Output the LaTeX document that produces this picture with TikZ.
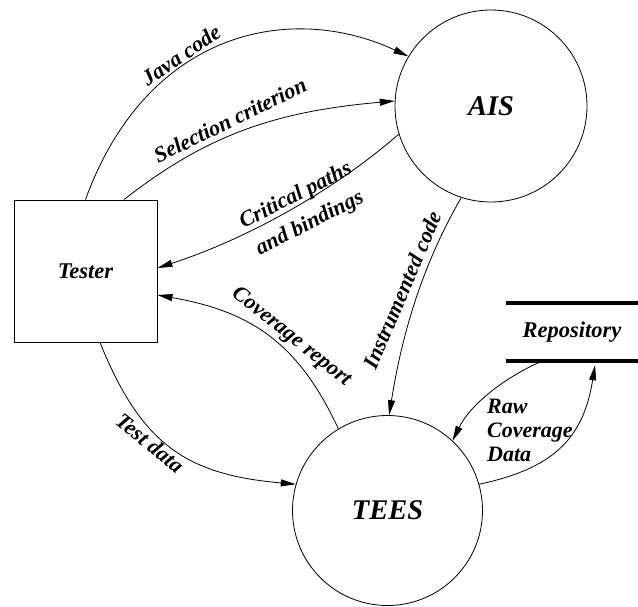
\documentclass[tikz,border=0pt]{standalone}
\usepackage{fontspec}
\setmainfont{Liberation Serif}
\usetikzlibrary{arrows.meta}
\begin{document}
\begin{tikzpicture}[x=1pt,y=-1pt,
  lbl/.style={font=\fontsize{22}{24}\selectfont\bfseries\itshape, inner sep=0pt},
  big/.style={font=\fontsize{28.5}{30}\selectfont\bfseries\itshape},
  proc/.style={circle, draw, line width=0.8pt, inner sep=0pt},
  flow/.style={line width=0.8pt, -{Triangle[length=15pt,width=7pt]}},
  ]
\useasboundingbox (0,0) rectangle (638,606);

\node[proc, minimum size=192pt, big] (ais) at (491,106) {AIS};
\node[proc, minimum size=190pt, big] (tees) at (387.5,510.5) {TEES};
\node[draw, line width=0.9pt, minimum width=143pt, minimum height=142pt,
      font=\fontsize{22.5}{24}\selectfont\bfseries\itshape] (tester) at (85.5,271) {Tester};
\node[minimum width=132pt, minimum height=58pt, inner sep=0pt,
      font=\fontsize{22.5}{24}\selectfont\bfseries\itshape] (repo) at (572,332) {Repository};
\draw[line width=4pt] (repo.north west) -- (repo.north east);
\draw[line width=4pt] (repo.south west) -- (repo.south east);

% flows
\draw[flow] (tester.north) .. controls +(70:180pt) and +(155:130pt) .. (ais.149);
\draw[flow] ([xshift=38.5pt]tester.north) .. controls +(38:105pt) and +(185:120pt) .. (ais.177);
\draw[flow] (ais.197) .. controls +(221:90pt) and +(18:90pt) .. ([yshift=3pt]tester.east);
\draw[flow] (tees.121) .. controls +(115:95pt) and +(-10:95pt) .. ([yshift=-24pt]tester.east);
\draw[flow] (ais.252) .. controls +(240:80pt) and +(81:80pt) .. (tees.89);
\draw[flow] ([xshift=14.5pt]tester.south) .. controls +(-68:110pt) and +(175:110pt) .. (tees.164);
\draw[flow] ([xshift=-30pt]repo.south) .. controls +(203:40pt) and +(64:40pt) .. (tees.47);
\draw[flow] (tees.16) .. controls +(12:75pt) and +(261:75pt) .. ([xshift=23pt,yshift=-4pt]repo.south);

% labels
\node[lbl, rotate=34] (ljava) at (181,55) {Java code};
\node[lbl, rotate=26] (lsel) at (230,120) {Selection criterion};
\node[lbl, rotate=27, align=center] (lcrit) at (303,210) {Critical paths\\[7pt]and bindings};
\node[lbl, rotate=-38.5] (lcov) at (291,337) {Coverage report};
\node[lbl, rotate=67] (linst) at (402,290) {Instrumented code};
\node[lbl, rotate=-39] (ltest) at (150,443) {Test data};
\node[lbl, align=left, anchor=west] (lraw) at (487,430) {Raw\\Coverage\\Data};
\end{tikzpicture}
\end{document}
